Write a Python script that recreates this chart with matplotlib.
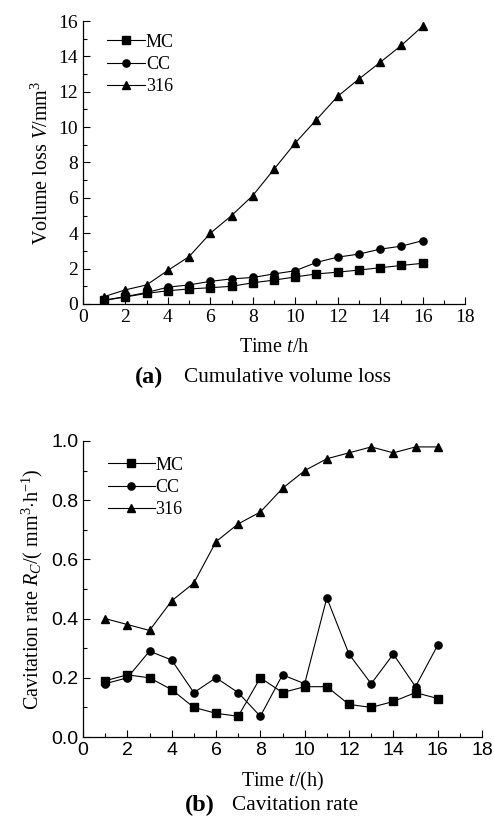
import numpy as np
import matplotlib
matplotlib.use('Agg')
import matplotlib.pyplot as plt
from matplotlib.ticker import MultipleLocator, FormatStrFormatter

plt.rcParams['font.family'] = ['Liberation Serif', 'DejaVu Serif']
plt.rcParams['mathtext.fontset'] = 'custom'
plt.rcParams['mathtext.rm'] = 'Liberation Serif'
plt.rcParams['mathtext.it'] = 'Liberation Serif:italic'
plt.rcParams['mathtext.bf'] = 'Liberation Serif:bold'

hours = list(range(1, 17))
series = ['MC', 'CC', '316']
markers = ['s', 'o', '^']

# (a) cumulative volume loss, mm^3
vol_mc = [0.2, 0.4, 0.6, 0.75, 0.85, 0.92, 1.0, 1.2, 1.35, 1.53, 1.7, 1.8, 1.92, 2.05, 2.18, 2.3]
vol_cc = [0.22, 0.42, 0.65, 0.95, 1.08, 1.28, 1.42, 1.5, 1.7, 1.88, 2.35, 2.65, 2.82, 3.1, 3.27, 3.58]
vol_316 = [0.42, 0.8, 1.08, 1.9, 2.68, 4.0, 5.0, 6.13, 7.62, 9.1, 10.42, 11.74, 12.72, 13.66, 14.62, 15.7]

# (b) cavitation rate, mm^3/h
rate_mc = [0.19, 0.21, 0.20, 0.16, 0.10, 0.08, 0.07, 0.20, 0.15, 0.17, 0.17, 0.11, 0.10, 0.12, 0.15, 0.13]
rate_cc = [0.18, 0.20, 0.29, 0.26, 0.15, 0.20, 0.15, 0.07, 0.21, 0.18, 0.47, 0.28, 0.18, 0.28, 0.17, 0.31]
rate_316 = [0.40, 0.38, 0.36, 0.46, 0.52, 0.66, 0.72, 0.76, 0.84, 0.90, 0.94, 0.96, 0.98, 0.96, 0.98, 0.98]

W, H = 494, 822
fig = plt.figure(figsize=(W / 100, H / 100), dpi=100)

def style(ax, fam, size):
    for s in ['top', 'right']:
        ax.spines[s].set_visible(False)
    for s in ['left', 'bottom']:
        ax.spines[s].set_linewidth(0.9)
    ax.tick_params(which='both', direction='in', labelsize=size, width=0.8)
    ax.tick_params(which='major', length=5)
    ax.tick_params(which='minor', length=3)
    for lab in ax.get_xticklabels() + ax.get_yticklabels():
        lab.set_family(fam)

# top panel
ax1 = fig.add_axes([83 / W, 1 - 304 / H, (465 - 83) / W, (304 - 21) / H])
for ys, m, lab in zip([vol_mc, vol_cc, vol_316], markers, series):
    ax1.plot(hours, ys, color='black', lw=0.8, marker=m, ms=5.2, label=lab)
ax1.set_xlim(0, 18); ax1.set_ylim(0, 16)
ax1.xaxis.set_major_locator(MultipleLocator(2)); ax1.xaxis.set_minor_locator(MultipleLocator(1))
ax1.yaxis.set_major_locator(MultipleLocator(2)); ax1.yaxis.set_minor_locator(MultipleLocator(1))
style(ax1, 'Liberation Serif', 14)
ax1.set_xlabel('Time $t$/h', fontsize=14.5, labelpad=9)
ax1.set_ylabel('Volume loss $V$/mm$^3$', fontsize=14.5, labelpad=4)
ax1.legend(loc='upper left', bbox_to_anchor=(0.03, 1.0), frameon=False, fontsize=13,
           handlelength=2.1, handletextpad=0.05, labelspacing=0.3, borderaxespad=0.3)
fig.text(135 / W, 1 - 377 / H, '(a)', fontsize=17.5, fontweight='bold', ha='left', va='center')
fig.text(184 / W, 1 - 377 / H, 'Cumulative volume loss', fontsize=15.3, ha='left', va='center')

# bottom panel
ax2 = fig.add_axes([83 / W, 1 - 737 / H, (482 - 83) / W, (737 - 441) / H])
for ys, m, lab in zip([rate_mc, rate_cc, rate_316], markers, series):
    ax2.plot(hours, ys, color='black', lw=0.8, marker=m, ms=5.2, label=lab)
ax2.set_xlim(0, 18); ax2.set_ylim(0, 1.0)
ax2.xaxis.set_major_locator(MultipleLocator(2)); ax2.xaxis.set_minor_locator(MultipleLocator(1))
ax2.yaxis.set_major_locator(MultipleLocator(0.2)); ax2.yaxis.set_minor_locator(MultipleLocator(0.1))
ax2.yaxis.set_major_formatter(FormatStrFormatter('%.1f'))
style(ax2, 'Liberation Sans', 14)
ax2.set_xlabel('Time $t$/(h)', fontsize=14.5, labelpad=8)
ax2.set_ylabel('Cavitation rate $R_C$/( mm$^3$$\\cdot$h$^{-1}$)', fontsize=14.5, labelpad=4)
ax2.legend(loc='upper left', bbox_to_anchor=(0.03, 0.99), frameon=False, fontsize=13,
           handlelength=2.6, handletextpad=0.05, labelspacing=0.3, borderaxespad=0.3)
fig.text(185 / W, 1 - 805 / H, '(b)', fontsize=17.5, fontweight='bold', ha='left', va='center')
fig.text(232 / W, 1 - 805 / H, 'Cavitation rate', fontsize=15.3, ha='left', va='center')

fig.savefig('out.png', dpi=100)
